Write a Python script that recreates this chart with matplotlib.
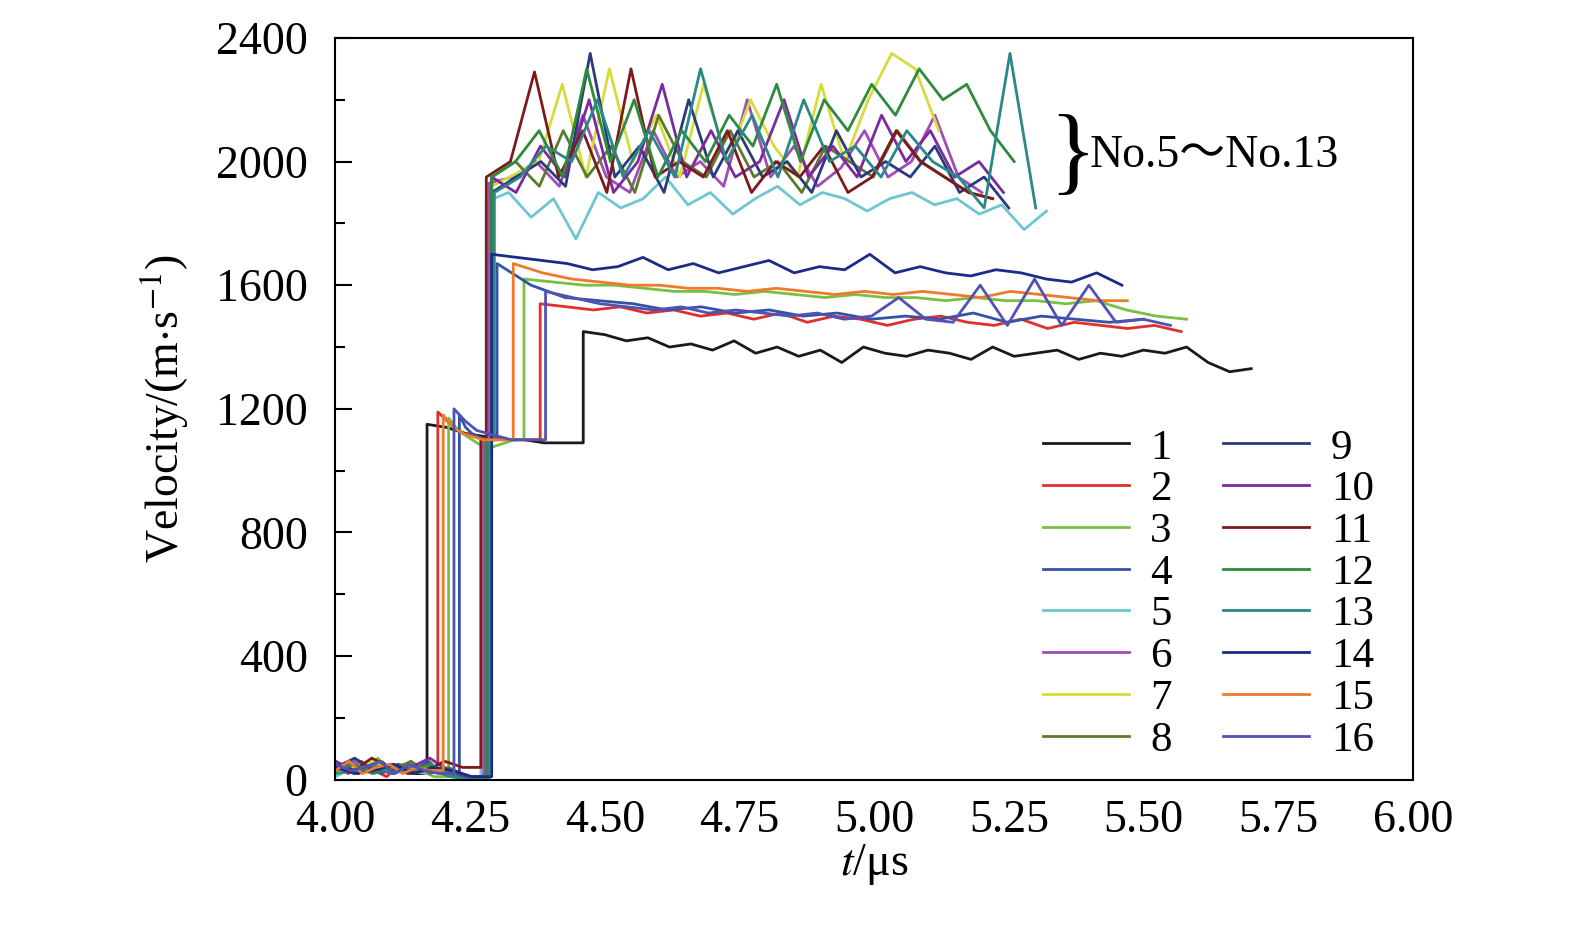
import numpy as np
import matplotlib
matplotlib.use("Agg")
import matplotlib.pyplot as plt

plt.rcParams['font.family'] = ['Liberation Serif', 'Noto Sans CJK SC']
plt.rcParams['mathtext.fontset'] = 'stix'

# Each probe: jump times, baseline values, first plateau, second plateau (values read along time)
labels = [str(i) for i in range(1, 17)]
colors = ['#1a1a1a', '#e0302a', '#78c043', '#3553a6', '#6ec6d0', '#a04db4', '#d6dc3a', '#5c7a2c',
          '#2b3a7c', '#7a2a9c', '#7c1a1c', '#2e8a3c', '#2a8888', '#1c2a8a', '#f07a2c', '#5252b4']
t_jump1 = [4.17, 4.19, 4.21, 4.23, 4.27, 4.275, 4.28, 4.28, 4.285, 4.28, 4.27, 4.28, 4.285, 4.29, 4.20, 4.22]
t_jump2 = [4.46, 4.38, 4.35, 4.30, 4.28, 4.285, 4.29, 4.29, 4.29, 4.29, 4.28, 4.29, 4.295, 4.29, 4.33, 4.39]
t_end = [5.70, 5.57, 5.58, 5.50, 5.32, 5.20, 5.12, 5.22, 5.25, 5.24, 5.22, 5.26, 5.30, 5.46, 5.47, 5.55]

base = [
    [30, 50, 20, 40, 60, 30, 50, 20],
    [40, 20, 60, 30, 10, 50, 30, 40],
    [20, 50, 30, 70, 20, 40, 30, 10],
    [60, 30, 40, 20, 50, 30, 60, 20],
    [10, 40, 20, 50, 30, 20, 40, 0],
    [30, 60, 40, 20, 50, 30, 20, 10],
    [20, 40, 60, 30, 20, 50, 30, 0],
    [50, 20, 40, 30, 60, 20, 40, 10],
    [40, 70, 30, 50, 20, 40, 30, 0],
    [60, 30, 50, 20, 40, 70, 30, 10],
    [50, 30, 70, 40, 20, 30, 60, 40],
    [30, 50, 20, 40, 30, 50, 20, 0],
    [20, 30, 50, 20, 40, 30, 10, 0],
    [40, 20, 30, 50, 20, 40, 30, 10],
    [30, 60, 20, 40, 50, 20, 40, 30],
    [50, 30, 40, 60, 20, 50, 30, 20],
]
plat1 = [
    [1150, 1140, 1120, 1110, 1100, 1100, 1090, 1090],
    [1190, 1150, 1120, 1110, 1100, 1100, 1100, 1100],
    [1170, 1130, 1110, 1090, 1070, 1080, 1090, 1100],
    [1180, 1140, 1120, 1110, 1100, 1100],
    [1100], [1100], [1100], [1100], [1100], [1100], [1100], [1100], [1100], [1100],
    [1180, 1140, 1120, 1110, 1100, 1100, 1100],
    [1200, 1160, 1130, 1120, 1110, 1100, 1100, 1100],
]
plat2 = [
    [1450, 1440, 1420, 1430, 1400, 1410, 1390, 1420, 1380, 1400, 1370, 1390, 1350, 1400, 1380,
     1370, 1390, 1380, 1360, 1400, 1370, 1380, 1390, 1360, 1380, 1370, 1390, 1380, 1400, 1350, 1320, 1330],
    [1540, 1530, 1520, 1530, 1510, 1520, 1500, 1510, 1490, 1510, 1480, 1500, 1490, 1470, 1490,
     1500, 1480, 1470, 1490, 1460, 1480, 1470, 1460, 1470, 1450],
    [1620, 1610, 1600, 1600, 1590, 1580, 1580, 1570, 1580, 1570, 1560, 1570, 1560, 1560, 1550,
     1560, 1550, 1550, 1540, 1550, 1520, 1500, 1490],
    [1670, 1600, 1560, 1550, 1540, 1520, 1530, 1510, 1520, 1500, 1510, 1490, 1500, 1490, 1510,
     1480, 1500, 1490, 1480, 1490],
    [1870, 1900, 1820, 1880, 1750, 1900, 1850, 1880, 1950, 1860, 1900, 1830, 1880, 1920, 1860,
     1900, 1880, 1840, 1880, 1900, 1860, 1880, 1830, 1860, 1780, 1840],
    [1930, 1950, 2000, 1920, 2150, 1950, 1900, 2100, 1950, 2000, 1920, 2200, 1950, 2050, 1920,
     1980, 2100, 1950, 2000, 2150, 1950, 1900],
    [1920, 1960, 2000, 2250, 1950, 2300, 2000, 2150, 1950, 2250, 2000, 2200, 2050, 1950, 2250,
     2000, 2200, 2350, 2300, 2100],
    [1950, 2000, 1920, 2100, 1950, 2050, 1900, 2150, 2000, 1950, 2100, 1950, 2000, 1900, 2050,
     2000, 1950, 2100, 2000, 1950, 1900, 1880],
    [1900, 1950, 2000, 1920, 2350, 1950, 2050, 1900, 2200, 1950, 2100, 1950, 2000, 1900, 2100,
     1950, 2000, 1950, 2050, 1900, 1950, 1850],
    [1950, 1900, 2050, 1950, 2200, 1900, 2000, 2250, 1950, 2100, 1950, 2000, 2200, 1950, 2050,
     1950, 2150, 2000, 2100, 1950, 2000, 1900],
    [1950, 2000, 2290, 1950, 2100, 1900, 2300, 1950, 2000, 1950, 2100, 1900, 2000, 1950, 2050,
     1900, 1950, 2100, 2000, 1950, 1900, 1880],
    [1950, 2000, 2100, 1950, 2300, 2000, 2200, 1950, 2100, 2000, 2150, 2050, 2250, 2000, 2200,
     2100, 2250, 2150, 2300, 2200, 2250, 2100, 2000],
    [1900, 1950, 2050, 2000, 2200, 1950, 2100, 1950, 2300, 2000, 2150, 1950, 2200, 2000, 2050,
     1950, 2100, 2000, 1950, 1850, 2350, 1850],
    [1700, 1690, 1680, 1670, 1650, 1660, 1690, 1650, 1670, 1640, 1660, 1680, 1640, 1660, 1650,
     1700, 1640, 1660, 1640, 1630, 1650, 1640, 1620, 1610, 1640, 1600],
    [1670, 1640, 1620, 1610, 1600, 1600, 1590, 1590, 1580, 1590, 1580, 1570, 1580, 1570, 1580,
     1570, 1560, 1580, 1570, 1560, 1550, 1550],
    [1580, 1560, 1540, 1530, 1520, 1530, 1510, 1520, 1510, 1500, 1510, 1490, 1500, 1560, 1490,
     1480, 1600, 1470, 1620, 1470, 1600, 1480, 1490, 1470],
]

fig = plt.figure(figsize=(15.75, 9.25), dpi=100)
ax = fig.add_axes([0.213, 0.157, 0.684, 0.802])

for i in range(16):
    tb = np.linspace(4.0, t_jump1[i], len(base[i]), endpoint=False)
    t1 = np.linspace(t_jump1[i], t_jump2[i], len(plat1[i]), endpoint=False)
    t2 = np.linspace(t_jump2[i], t_end[i], len(plat2[i]))
    t = np.concatenate([tb, [t_jump1[i]], t1, [t_jump2[i]], t2])
    v = np.concatenate([base[i], [base[i][-1]], plat1[i], [plat1[i][-1]], plat2[i]])
    ax.plot(t, v, color=colors[i], lw=2, label=labels[i])

ax.set_xlim(4.0, 6.0)
ax.set_ylim(0, 2400)
ax.set_xticks(np.arange(4.0, 6.01, 0.25))
ax.set_xticklabels([f"{x:.2f}" for x in np.arange(4.0, 6.01, 0.25)])
ax.set_yticks(np.arange(0, 2401, 400))
ax.set_yticks(np.arange(0, 2401, 200), minor=True)
ax.xaxis.set_minor_locator(matplotlib.ticker.MultipleLocator(0.125))
ax.tick_params(which='both', direction='in', labelsize=33, width=1.5)
ax.tick_params(axis='x', which='both', length=0, pad=14)
ax.tick_params(axis='y', which='major', length=12, pad=20)
ax.tick_params(axis='y', which='minor', length=7)
for s in ax.spines.values():
    s.set_linewidth(1.5)
ax.set_xlabel(r'$t$/μs', fontsize=33, labelpad=0)
ax.set_ylabel(r'Velocity/(m$\cdot$s$^{-1}$)', fontsize=33, labelpad=18)

ax.text(5.325, 2010, '}', fontsize=70, va='center', ha='left', fontweight='light')
ax.text(5.40, 2020, 'No.5～No.13', fontsize=33, va='center', ha='left')

ax.legend(ncol=2, loc='lower right', bbox_to_anchor=(1.0, -0.025), frameon=False, fontsize=31,
          handlelength=2.0, handletextpad=0.5, columnspacing=1.2, labelspacing=0.06)

fig.savefig('out.png', dpi=100)
